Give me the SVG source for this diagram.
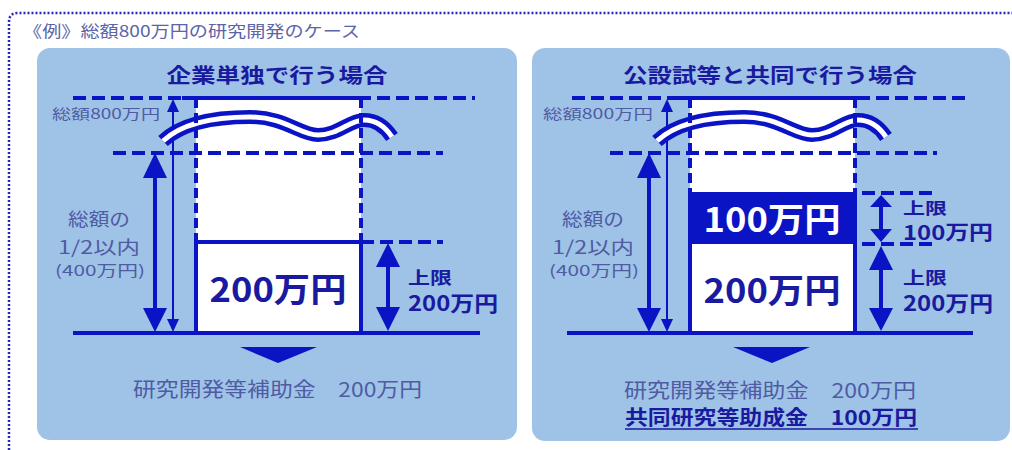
<svg xmlns="http://www.w3.org/2000/svg" width="1012" height="450" viewBox="0 0 1012 450">
<style>
.t{font-family:"Noto Sans CJK JP","Noto Sans",sans-serif}
.g{fill:#4f5ba3}
.b{fill:#1a1aa0;font-weight:bold}
.w{fill:#ffffff;font-weight:bold}
.dash{stroke:#0b14c4;stroke-width:4;stroke-dasharray:13 6;fill:none}
.vd{stroke:#0b14c4;stroke-width:4;stroke-dasharray:10 5;fill:none}
.sol{stroke:#0b14c4;stroke-width:4;fill:none}
.ar{fill:#0b14c4}
.panel{fill:#9fc3e7}
.wave{fill:none;stroke:#0b14c4;stroke-width:14}
.wavein{fill:none;stroke:#ffffff;stroke-width:5}
</style>
<rect width="1012" height="450" fill="#ffffff"/>
<path id="frame" d="M9,450 L9,22 Q9,13 18,13 L1012,13" fill="none" stroke="#2a2ab0" stroke-width="2.5" stroke-dasharray="2 2"/>
<text class="t" x="23" y="37" font-size="16" fill="#5c64a8" textLength="337" lengthAdjust="spacingAndGlyphs">《例》総額800万円の研究開発のケース</text>

<g id="panel-left">
<rect class="panel" x="37" y="48" width="480" height="392" rx="13"/>
<text class="t b" x="277" y="83" font-size="20" text-anchor="middle" textLength="221" lengthAdjust="spacingAndGlyphs">企業単独で行う場合</text>
<rect x="196" y="98" width="165" height="235" fill="#ffffff"/>
<g id="conn-left">
<line class="dash" x1="73" y1="98" x2="475" y2="98"/>
<line class="sol" x1="182" y1="98" x2="367" y2="98"/>
<line class="dash" x1="113" y1="153" x2="443" y2="153"/>
<line class="dash" x1="361" y1="242" x2="443" y2="242"/>
<rect class="ar" x="153" y="176" width="4" height="134"/>
<polygon class="ar" points="155,153 143,178 167,178"/>
<polygon class="ar" points="143,308 167,308 155,332"/>
<rect class="ar" x="172" y="110" width="2" height="212"/>
<polygon class="ar" points="173,99 167,112 179,112"/>
<polygon class="ar" points="167,319 179,319 173,332"/>
<rect class="ar" x="386" y="265" width="4" height="45"/>
<polygon class="ar" points="388,243 376,267 400,267"/>
<polygon class="ar" points="376,307 400,307 388,331"/>
</g>
<path class="wave" d="M163,141 C180,125 210,117 250,117 C285,117 300,135 318,135 C338,135 350,120 364,120 C378,120 386,128 392,137"/>
<path class="wavein" d="M163,141 C180,125 210,117 250,117 C285,117 300,135 318,135 C338,135 350,120 364,120 C378,120 386,128 392,137"/>
<line class="vd" x1="196" y1="98" x2="196" y2="242"/>
<line class="vd" x1="361" y1="98" x2="361" y2="242"/>
<line class="sol" x1="196" y1="242" x2="196" y2="333"/>
<line class="sol" x1="361" y1="242" x2="361" y2="333"/>
<line class="sol" x1="196" y1="242" x2="361" y2="242"/>
<line class="sol" x1="73" y1="333" x2="480" y2="333"/>
<polygon class="ar" points="240,347 317,347 278,363"/>
<text class="t g" x="52" y="119" font-size="14" textLength="108" lengthAdjust="spacingAndGlyphs">総額800万円</text>
<text class="t g" x="99" y="226" font-size="18" text-anchor="middle" textLength="62" lengthAdjust="spacingAndGlyphs">総額の</text>
<text class="t g" x="99" y="254" font-size="18" text-anchor="middle" textLength="82" lengthAdjust="spacingAndGlyphs">1/2以内</text>
<text class="t g" x="100" y="276" font-size="15" text-anchor="middle" textLength="90" lengthAdjust="spacingAndGlyphs">(400万円)</text>
<text class="t b" x="278" y="302" font-size="34" text-anchor="middle" textLength="137" lengthAdjust="spacingAndGlyphs">200万円</text>
<text class="t b" x="408" y="284" font-size="17" textLength="44" lengthAdjust="spacingAndGlyphs">上限</text>
<text class="t b" x="408" y="311" font-size="21" textLength="90" lengthAdjust="spacingAndGlyphs">200万円</text>
<text class="t g" x="133" y="397" font-size="20" textLength="289" lengthAdjust="spacingAndGlyphs">研究開発等補助金　200万円</text>
</g>

<g id="panel-right">
<rect class="panel" x="532" y="48" width="478" height="393" rx="13"/>
<text class="t b" x="770" y="83" font-size="20" text-anchor="middle" textLength="294" lengthAdjust="spacingAndGlyphs">公設試等と共同で行う場合</text>
<rect x="690" y="98" width="165" height="235" fill="#ffffff"/>
<rect x="690" y="192" width="165" height="52" fill="#0b14c4"/>
<g id="conn-right">
<line class="dash" x1="572" y1="98" x2="970" y2="98"/>
<line class="sol" x1="677" y1="98" x2="863" y2="98"/>
<line class="dash" x1="610" y1="153" x2="937" y2="153"/>
<line class="dash" x1="862" y1="193" x2="937" y2="193"/>
<line class="dash" x1="862" y1="244" x2="937" y2="244"/>
<rect class="ar" x="647" y="176" width="4" height="134"/>
<polygon class="ar" points="649,153 637,178 661,178"/>
<polygon class="ar" points="637,308 661,308 649,332"/>
<rect class="ar" x="666" y="110" width="2" height="212"/>
<polygon class="ar" points="667,99 661,112 673,112"/>
<polygon class="ar" points="661,319 673,319 667,332"/>
<rect class="ar" x="879" y="205" width="4" height="26"/>
<polygon class="ar" points="881,195 870,207 892,207"/>
<polygon class="ar" points="870,229 892,229 881,242"/>
<rect class="ar" x="879" y="268" width="4" height="42"/>
<polygon class="ar" points="881,246 869,270 893,270"/>
<polygon class="ar" points="869,308 893,308 881,331"/>
</g>
<path class="wave" d="M657,141 C674,125 704,117 744,117 C779,117 794,135 812,135 C832,135 844,120 858,120 C872,120 880,128 886,137"/>
<path class="wavein" d="M657,141 C674,125 704,117 744,117 C779,117 794,135 812,135 C832,135 844,120 858,120 C872,120 880,128 886,137"/>
<line class="vd" x1="690" y1="98" x2="690" y2="192"/>
<line class="vd" x1="855" y1="98" x2="855" y2="192"/>
<line class="sol" x1="690" y1="192" x2="690" y2="333"/>
<line class="sol" x1="855" y1="192" x2="855" y2="333"/>
<line class="sol" x1="567" y1="333" x2="973" y2="333"/>
<polygon class="ar" points="733,347 810,347 772,363"/>
<text class="t g" x="543" y="119" font-size="14" textLength="110" lengthAdjust="spacingAndGlyphs">総額800万円</text>
<text class="t g" x="593" y="226" font-size="18" text-anchor="middle" textLength="62" lengthAdjust="spacingAndGlyphs">総額の</text>
<text class="t g" x="593" y="254" font-size="18" text-anchor="middle" textLength="82" lengthAdjust="spacingAndGlyphs">1/2以内</text>
<text class="t g" x="594" y="276" font-size="15" text-anchor="middle" textLength="90" lengthAdjust="spacingAndGlyphs">(400万円)</text>
<text class="t w" x="772" y="232" font-size="34" text-anchor="middle" textLength="137" lengthAdjust="spacingAndGlyphs">100万円</text>
<text class="t b" x="772" y="303" font-size="34" text-anchor="middle" textLength="137" lengthAdjust="spacingAndGlyphs">200万円</text>
<text class="t b" x="903" y="214" font-size="16" textLength="44" lengthAdjust="spacingAndGlyphs">上限</text>
<text class="t b" x="903" y="240" font-size="20" textLength="90" lengthAdjust="spacingAndGlyphs">100万円</text>
<text class="t b" x="903" y="284" font-size="17" textLength="44" lengthAdjust="spacingAndGlyphs">上限</text>
<text class="t b" x="903" y="311" font-size="21" textLength="90" lengthAdjust="spacingAndGlyphs">200万円</text>
<text class="t g" x="624" y="398" font-size="20" textLength="292" lengthAdjust="spacingAndGlyphs">研究開発等補助金　200万円</text>
<text class="t b" x="625" y="425" font-size="20" textLength="292" lengthAdjust="spacingAndGlyphs">共同研究等助成金　100万円</text>
<line x1="625" y1="429" x2="918" y2="429" stroke="#1a1aa0" stroke-width="1.5"/>
</g>
</svg>
